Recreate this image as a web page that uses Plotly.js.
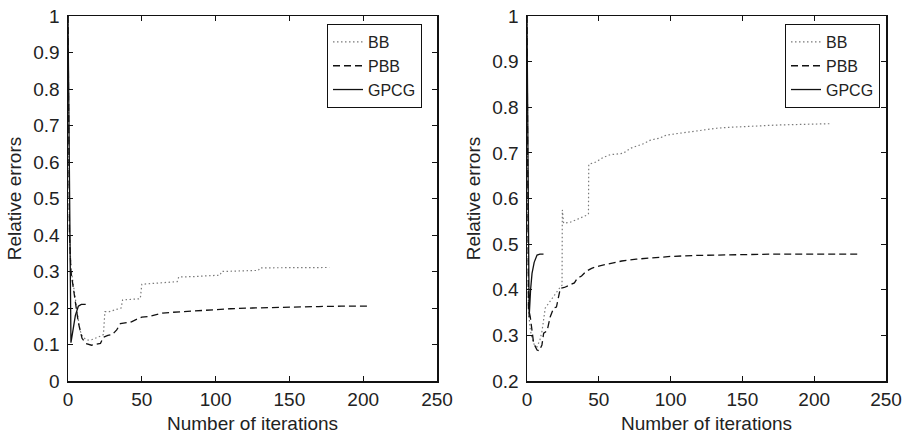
<!DOCTYPE html>
<html>
<head>
<meta charset="utf-8">
<script src="https://cdn.plot.ly/plotly-3.0.1.min.js"></script>
<style>html,body{margin:0;padding:0;background:#fff;}#chart{width:915px;height:439px;}</style>
</head>
<body>
<div id="chart"></div>
<script>
// ---- Left panel data ----
const leftBBIter = [0,1,2,4,6,8,10,13,16,19,22,24,25,28,32,36,37,40,44,48,49,50,55,60,65,70,74,75,85,95,103,104,115,125,129,130,145,160,177];
const leftBBErr  = [1,0.4,0.31,0.25,0.19,0.14,0.12,0.112,0.113,0.117,0.123,0.127,0.19,0.19,0.195,0.2,0.222,0.222,0.224,0.225,0.226,0.265,0.267,0.268,0.27,0.271,0.272,0.285,0.286,0.288,0.29,0.30,0.301,0.302,0.303,0.31,0.31,0.311,0.311];
const leftPBBIter = [0,1,2,3,5,7,9.5,12,16,20,22,24,27,30,33,35.5,40,43,47,50,55,60,64,70,80,90,100,110,125,140,155,170,185,205];
const leftPBBErr  = [1,0.4,0.3,0.27,0.22,0.16,0.117,0.103,0.098,0.1,0.103,0.12,0.125,0.127,0.14,0.157,0.16,0.162,0.17,0.175,0.177,0.182,0.186,0.188,0.191,0.194,0.196,0.198,0.2,0.202,0.203,0.204,0.205,0.205];
const leftGPCGIter = [0,2,3,5,7,9,12];
const leftGPCGErr  = [1,0.105,0.13,0.18,0.205,0.21,0.21];

// ---- Right panel data ----
const rightBBIter = [0,1,2,3,5,7,9,10.5,12.7,16,19.7,23,24.4,24.6,25.5,30,34,38,42,42.8,43,48,53,58,63,67,72,76,81,86,92,97,104,110,116,124,132,141,151,162,174,186,198,212];
const rightBBErr  = [1,0.36,0.32,0.3,0.28,0.275,0.29,0.31,0.36,0.375,0.39,0.405,0.41,0.575,0.546,0.548,0.553,0.558,0.564,0.566,0.675,0.68,0.69,0.696,0.697,0.699,0.71,0.714,0.72,0.728,0.732,0.739,0.742,0.745,0.747,0.751,0.754,0.756,0.758,0.759,0.761,0.762,0.763,0.764];
const rightPBBIter = [0,1,2.3,3.5,4.6,7,8.5,10.4,11.6,14,16.2,18.6,20.5,22,23.2,26,31,33,35,38,41,45,50,58,66,76,88,100,115,130,150,170,190,210,230];
const rightPBBErr  = [1,0.36,0.34,0.312,0.283,0.268,0.266,0.279,0.305,0.31,0.341,0.36,0.362,0.385,0.403,0.405,0.413,0.415,0.425,0.43,0.44,0.447,0.452,0.458,0.463,0.467,0.47,0.473,0.475,0.476,0.477,0.478,0.478,0.478,0.478];
const rightGPCGIter = [0,1.5,2.5,3.5,5,7,9,11.5];
const rightGPCGErr  = [1,0.34,0.4,0.436,0.46,0.476,0.478,0.478];

const seriesNames = ['BB','PBB','GPCG'];
const xTickVals = [0,50,100,150,200,250];
const leftYTicks = [0,0.1,0.2,0.3,0.4,0.5,0.6,0.7,0.8,0.9,1];
const rightYTicks = [0.2,0.3,0.4,0.5,0.6,0.7,0.8,0.9,1];

const FONT = '"Liberation Sans", Arial, Helvetica, sans-serif';
const TXT = '#222';
const styles = [
  {color:'#7a7a7a', width:1.2, dash:'1.5px,2.5px'},
  {color:'#111', width:1.3, dash:'7px,4px'},
  {color:'#111', width:1.3, dash:'solid'}
];

function tr(x, y, i, xa, ya, leg) {
  return {x:x, y:y, type:'scatter', mode:'lines', name:seriesNames[i],
    line:styles[i], xaxis:xa, yaxis:ya, legend:leg, showlegend:true};
}

const data = [
  tr(leftBBIter, leftBBErr, 0, 'x', 'y', 'legend'),
  tr(leftPBBIter, leftPBBErr, 1, 'x', 'y', 'legend'),
  tr(leftGPCGIter, leftGPCGErr, 2, 'x', 'y', 'legend'),
  tr(rightBBIter, rightBBErr, 0, 'x2', 'y2', 'legend2'),
  tr(rightPBBIter, rightPBBErr, 1, 'x2', 'y2', 'legend2'),
  tr(rightGPCGIter, rightGPCGErr, 2, 'x2', 'y2', 'legend2')
];

const axBase = {
  showline:true, linecolor:'#111', linewidth:1.5, mirror:'ticks',
  ticks:'inside', ticklen:5, tickcolor:'#111', tickwidth:1,
  showgrid:false, zeroline:false,
  tickfont:{family:FONT, size:19, color:TXT}
};
function xa(domain, anchor) {
  return Object.assign({}, axBase, {domain:domain, anchor:anchor, range:[0,250],
    tickvals:xTickVals, ticklabelstandoff:1,
    title:{text:'Number of iterations', font:{family:FONT, size:19, color:TXT}, standoff:7}});
}
function ya(range, ticks, anchor) {
  return Object.assign({}, axBase, {domain:[0,1], anchor:anchor, range:range,
    tickvals:ticks, ticklabelstandoff:3,
    title:{text:'Relative errors', font:{family:FONT, size:19, color:TXT}, standoff:6}});
}
function leg(x) {
  return {x:x, xanchor:'left', y:0.978, yanchor:'top', xref:'paper', yref:'paper',
    bgcolor:'#fff', bordercolor:'#111', borderwidth:1,
    font:{family:FONT, size:16, color:TXT}, tracegroupgap:0, itemwidth:30,
    traceorder:'normal'};
}

const layout = {
  width:915, height:439,
  margin:{l:0, r:0, t:16, b:58},
  paper_bgcolor:'#fff', plot_bgcolor:'#fff',
  xaxis:xa([68/915, 437/915], 'y'),
  yaxis:ya([0,1], leftYTicks, 'x'),
  xaxis2:xa([527/915, 886/915], 'y2'),
  yaxis2:ya([0.2,1], rightYTicks, 'x2'),
  legend:leg(327/915),
  legend2:leg(785/915),
  showlegend:true
};

Plotly.newPlot('chart', data, layout, {staticPlot:true, displayModeBar:false});
</script>
</body>
</html>
